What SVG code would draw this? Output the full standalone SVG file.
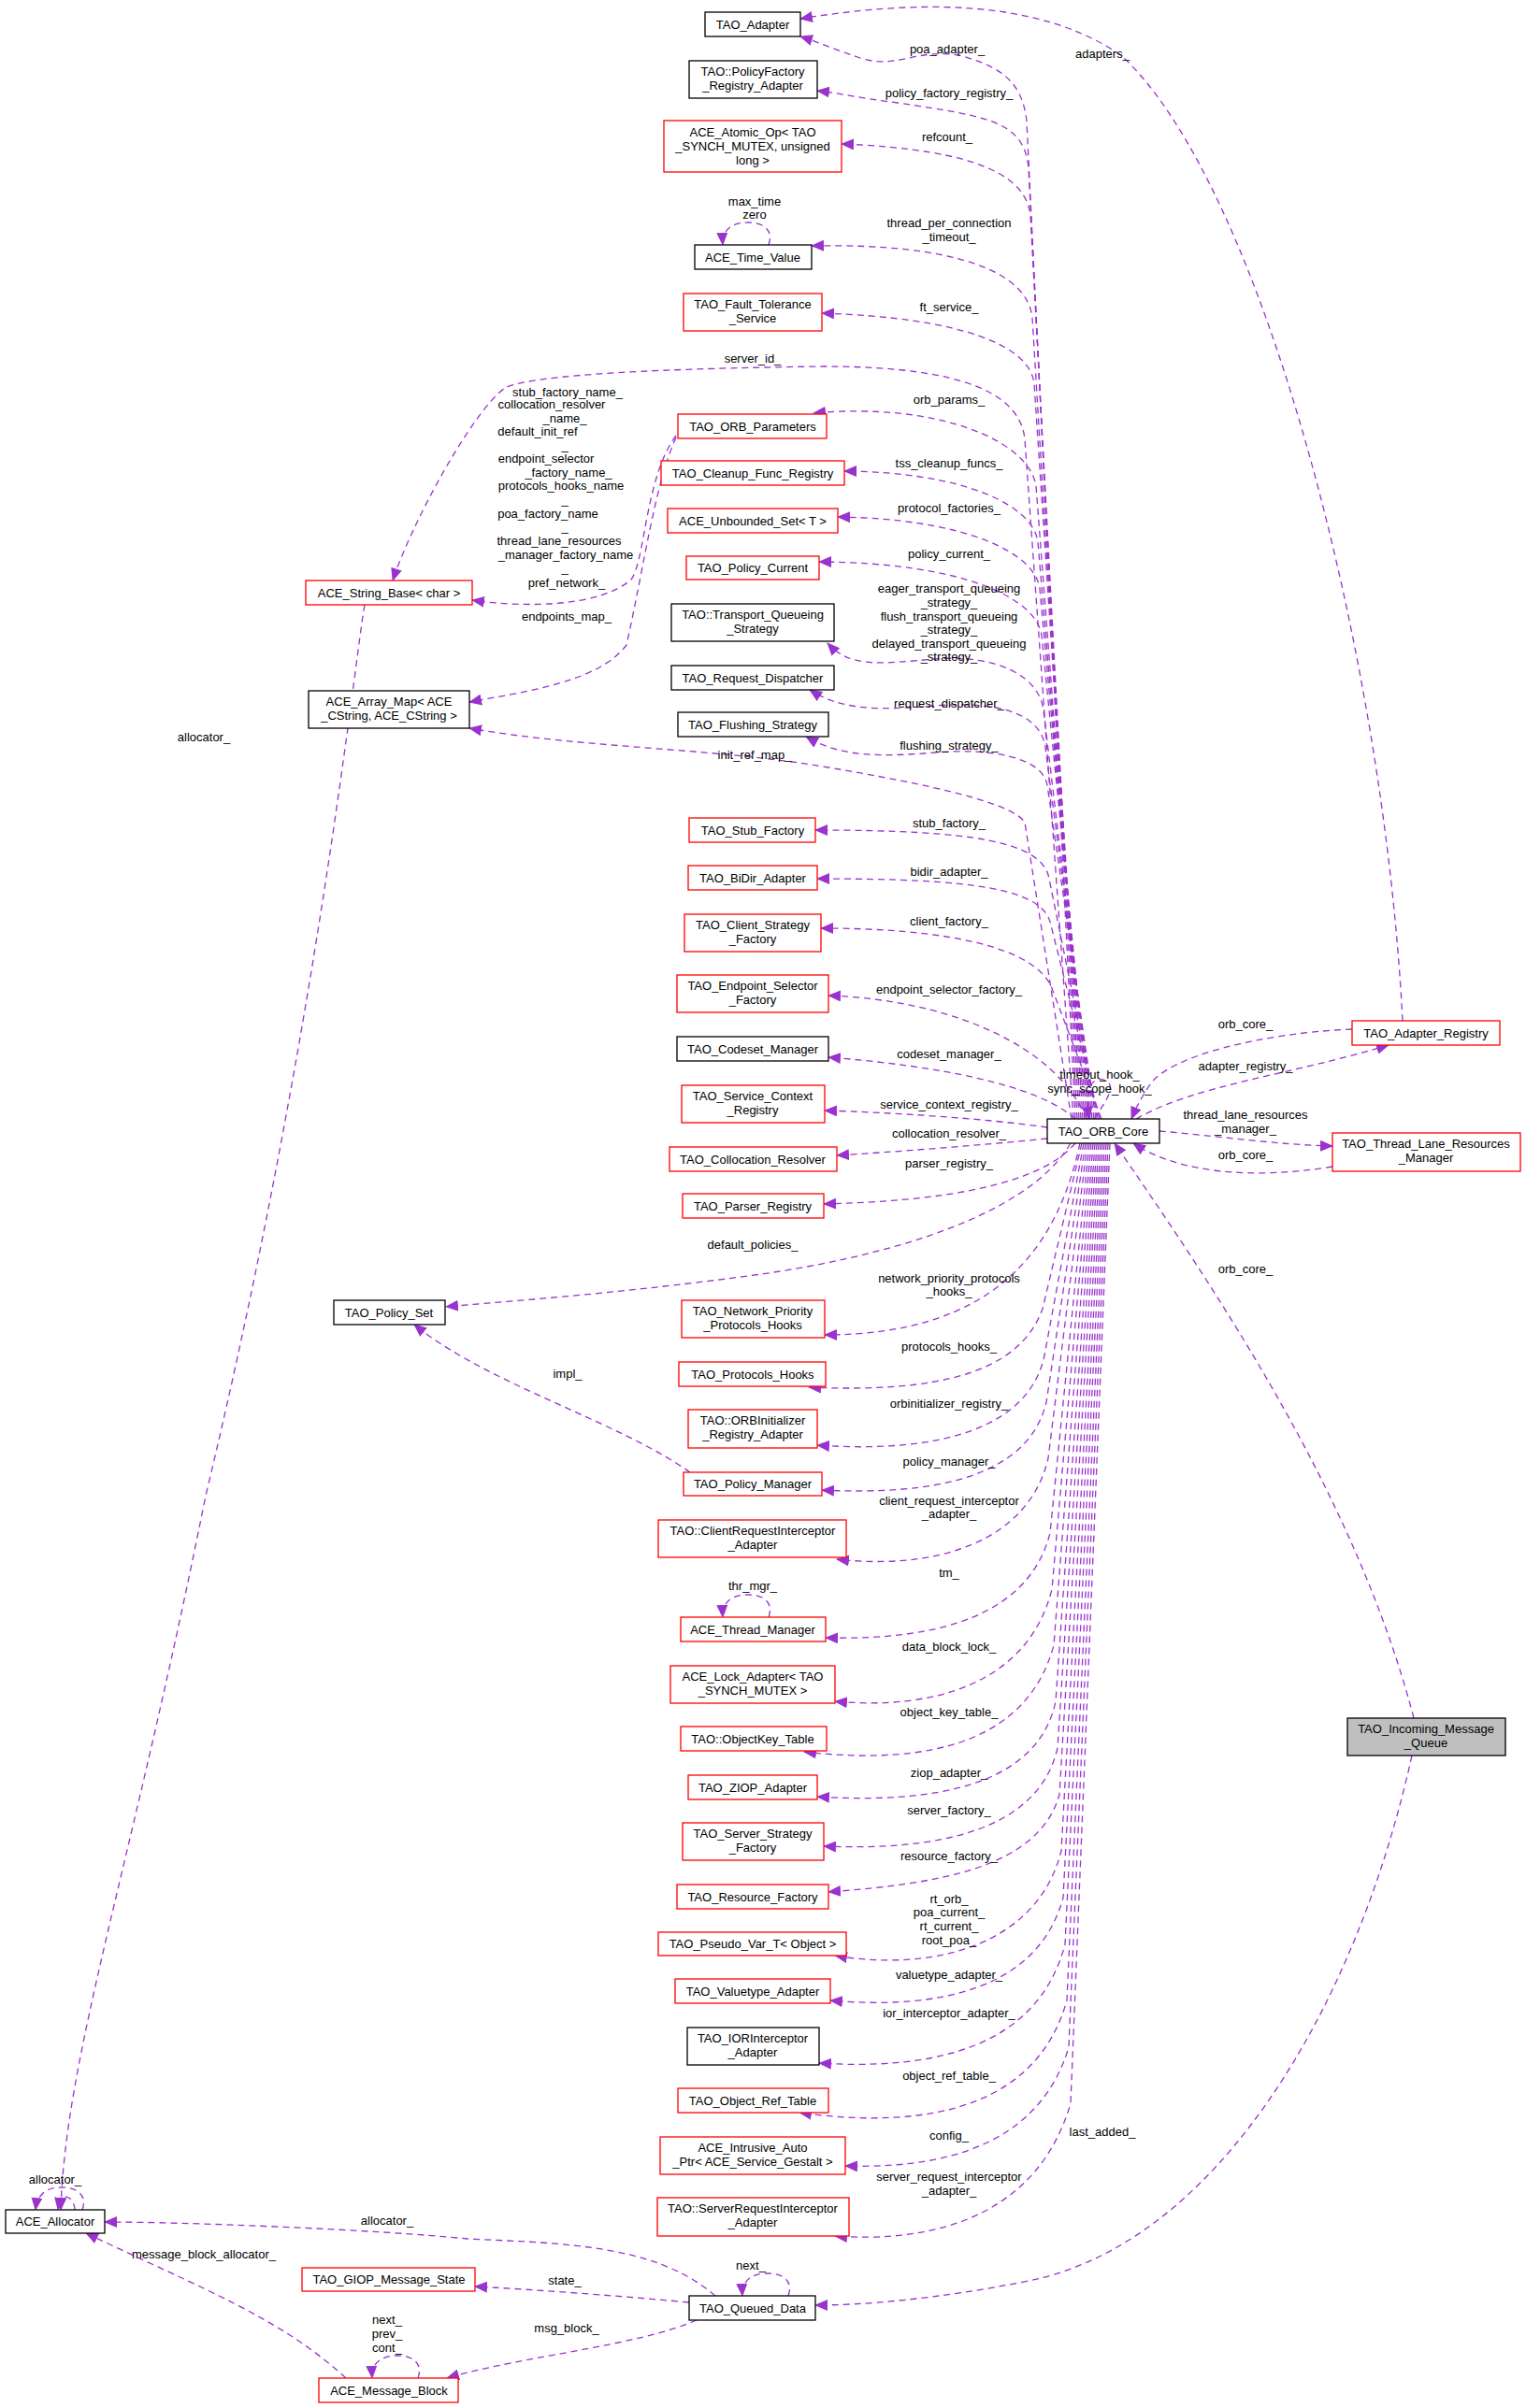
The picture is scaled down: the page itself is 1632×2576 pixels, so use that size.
<svg xmlns="http://www.w3.org/2000/svg" width="1632" height="2576" viewBox="0 0 1632 2576">
<style>
text{font-family:"Liberation Sans",Arial,sans-serif;font-size:13px;text-anchor:middle;fill:#000}
.n rect{fill:#fff;stroke:#000;stroke-width:1.3}
.r rect{stroke:#ff0000}
.g rect{fill:#bfbfbf}
.e path{fill:none;stroke:#9a32cd;stroke-width:1.3;stroke-dasharray:7,5;marker-end:url(#a)}
</style>
<defs><marker id="a" markerUnits="userSpaceOnUse" markerWidth="14" markerHeight="12" refX="13" refY="6" orient="auto"><path d="M0,0 L14,6 L0,12z" fill="#9a32cd"/></marker></defs>
<rect width="1632" height="2576" fill="#fff"/>
<g id="edges" class="e">
<path d="M1500,1092 C1480,700 1350,200 1200,60 C1100,-10 950,5 856,20"/>
<path d="M1150,1197 L1098,130 C1093,80 1060,70 1030,60 C980,50 960,75 920,62 C890,52 875,45 856,39"/>
<path d="M1152,1197 L1100,180 C1095,130 1060,125 960,110 C920,105 900,100 874,97"/>
<path d="M1154,1197 L1102,230 C1097,190 1050,160 900,154"/>
<path d="M1156,1197 L1104,340 C1099,290 1020,260 868,263"/>
<path d="M1158,1197 L1106,410 C1101,370 1030,340 879,335"/>
<path d="M1148,1197 L1096,470 C1090,410 1000,392 880,392 C720,394 570,400 540,415 C505,440 440,560 420,621"/>
<path d="M1160,1197 L1108,520 C1100,470 1000,430 870,442"/>
<path d="M1162,1197 L1110,580 C1105,540 1030,505 903,504"/>
<path d="M1164,1197 L1112,630 C1107,590 1030,555 896,553"/>
<path d="M1166,1197 L1114,680 C1109,640 1030,602 876,601"/>
<path d="M1168,1197 L1116,760 C1111,720 1060,700 1000,705 C940,710 910,715 885,688"/>
<path d="M1170,1197 L1118,800 C1113,760 1060,750 1000,755 C940,760 900,760 866,738"/>
<path d="M1172,1197 L1120,840 C1115,810 1060,800 1000,805 C940,810 900,810 862,788"/>
<path d="M1146,1197 L1096,880 C1085,860 1000,840 880,820 C760,800 620,800 502,779"/>
<path d="M1174,1197 L1122,940 C1115,900 1040,888 872,888"/>
<path d="M1176,1197 L1124,990 C1117,950 1040,940 874,940"/>
<path d="M1178,1197 L1126,1060 C1110,1010 1000,993 878,993"/>
<path d="M1162,1197 C1130,1120 1020,1070 886,1065"/>
<path d="M1150,1197 C1110,1160 1000,1140 886,1131"/>
<path d="M1120,1206 C1050,1196 950,1190 882,1188"/>
<path d="M1120,1218 C1050,1225 960,1232 895,1236"/>
<path d="M1150,1223 C1110,1270 1000,1285 881,1288"/>
<path d="M1145,1223 C1100,1300 950,1345 800,1365 C650,1385 540,1392 477,1398"/>
<path d="M1155,1223 C1130,1340 1060,1428 882,1428"/>
<path d="M1157,1223 L1115,1400 C1090,1470 1000,1490 865,1484"/>
<path d="M1159,1223 L1117,1450 C1100,1530 1000,1555 874,1546"/>
<path d="M1161,1223 L1119,1500 C1100,1580 1000,1600 879,1594"/>
<path d="M1163,1223 L1121,1560 C1100,1650 1000,1680 895,1668"/>
<path d="M1165,1223 L1123,1640 C1100,1730 1000,1755 883,1752"/>
<path d="M1167,1223 L1125,1700 C1100,1800 1000,1830 893,1820"/>
<path d="M1169,1223 L1127,1760 C1100,1860 1000,1890 860,1874"/>
<path d="M1171,1223 L1129,1820 C1110,1910 1000,1930 874,1922"/>
<path d="M1173,1223 L1131,1870 C1110,1960 1000,1980 881,1975"/>
<path d="M1175,1223 L1133,1920 C1110,2000 1000,2015 886,2024"/>
<path d="M1177,1223 L1135,1980 C1110,2080 1000,2110 893,2092"/>
<path d="M1179,1223 L1137,2030 C1110,2130 1000,2150 888,2140"/>
<path d="M1181,1223 L1139,2080 C1110,2190 1000,2215 876,2207"/>
<path d="M1183,1223 L1141,2140 C1110,2250 1000,2280 855,2260"/>
<path d="M1185,1223 L1143,2190 C1110,2300 1000,2320 904,2317"/>
<path d="M1187,1223 L1145,2250 C1110,2370 1000,2400 893,2392"/>
<path d="M1446,1101 C1350,1105 1250,1130 1230,1160 C1220,1175 1215,1185 1210,1197"/>
<path d="M1215,1197 C1280,1160 1380,1150 1485,1118"/>
<path d="M1240,1210 C1300,1215 1370,1225 1425,1226"/>
<path d="M1425,1248 C1340,1262 1260,1255 1212,1223"/>
<path d="M1512,1838 C1450,1600 1300,1380 1192,1223"/>
<path d="M1170,1197 C1185,1175 1195,1160 1180,1155 C1165,1152 1160,1170 1165,1197"/>
<path d="M1510,1878 C1450,2150 1300,2400 1100,2440 C1000,2460 920,2466 872,2466"/>
<path d="M723,466 C690,510 690,600 675,620 C640,650 560,650 505,642"/>
<path d="M723,468 C700,520 690,600 670,690 C640,730 560,740 502,751"/>
<path d="M738,1575 C660,1520 520,1480 443,1417"/>
<path d="M390,647 C380,700 340,1100 220,1600 C140,2000 70,2200 65,2364"/>
<path d="M765,2456 C700,2400 600,2400 500,2395 C400,2385 200,2377 112,2377"/>
<path d="M370,2544 C300,2480 220,2450 92,2389"/>
<path d="M737,2463 C650,2455 580,2450 508,2446"/>
<path d="M745,2482 C680,2510 560,2520 478,2544"/>
<path d="M822,262 C828,245 815,238 800,238 C785,238 772,244 773,262"/>
<path d="M822,1730 C828,1713 815,1706 800,1706 C785,1706 772,1712 773,1730"/>
<path d="M843,2456 C849,2439 836,2432 821,2432 C806,2432 793,2438 794,2456"/>
<path d="M447,2544 C453,2527 440,2520 425,2520 C410,2520 397,2526 398,2544"/>
<path d="M88,2364 C94,2347 81,2340 66,2340 C51,2340 40,2346 38,2364"/>
<path d="M80,2364 C80,2352 66,2340 62,2364"/>
</g>
<g id="labels">
<text x="1179" y="62">adapters_</text>
<text x="1013" y="57">poa_adapter_</text>
<text x="1015" y="104">policy_factory_registry_</text>
<text x="1013" y="151">refcount_</text>
<text x="807" y="220">max_time</text><text x="807" y="234">zero</text>
<text x="1015" y="243">thread_per_connection</text><text x="1015" y="258">_timeout_</text>
<text x="1015" y="333">ft_service_</text>
<text x="805" y="388">server_id_</text>
<text x="1015" y="432">orb_params_</text>
<text x="1015" y="500">tss_cleanup_funcs_</text>
<text x="1015" y="548">protocol_factories_</text>
<text x="1015" y="597">policy_current_</text>
<text x="1015" y="634">eager_transport_queueing</text><text x="1015" y="649">_strategy_</text><text x="1015" y="664">flush_transport_queueing</text><text x="1015" y="678">_strategy_</text><text x="1015" y="693">delayed_transport_queueing</text><text x="1015" y="707">_strategy_</text>
<text x="607" y="424">stub_factory_name_</text><text x="590" y="437">collocation_resolver</text><text x="604" y="452">_name_</text><text x="575" y="466">default_init_ref</text><text x="604" y="481">_</text><text x="584" y="495">endpoint_selector</text><text x="608" y="510">_factory_name_</text><text x="600" y="524">protocols_hooks_name</text><text x="604" y="539">_</text><text x="586" y="554">poa_factory_name</text><text x="604" y="568">_</text><text x="598" y="583">thread_lane_resources</text><text x="605" y="598">_manager_factory_name</text><text x="604" y="612">_</text><text x="606" y="628">pref_network_</text>
<text x="606" y="664">endpoints_map_</text>
<text x="218" y="793">allocator_</text>
<text x="1015" y="757">request_dispatcher_</text>
<text x="1015" y="802">flushing_strategy_</text>
<text x="807" y="812">init_ref_map_</text>
<text x="1015" y="885">stub_factory_</text>
<text x="1015" y="937">bidir_adapter_</text>
<text x="1015" y="990">client_factory_</text>
<text x="1015" y="1063">endpoint_selector_factory_</text>
<text x="1015" y="1132">codeset_manager_</text>
<text x="1015" y="1186">service_context_registry_</text>
<text x="1015" y="1217">collocation_resolver_</text>
<text x="1015" y="1249">parser_registry_</text>
<text x="1176" y="1154">timeout_hook_</text><text x="1176" y="1169">sync_scope_hook_</text>
<text x="1332" y="1100">orb_core_</text>
<text x="1332" y="1145">adapter_registry_</text>
<text x="1332" y="1197">thread_lane_resources</text><text x="1332" y="1212">_manager_</text>
<text x="1332" y="1240">orb_core_</text>
<text x="1332" y="1362">orb_core_</text>
<text x="805" y="1336">default_policies_</text>
<text x="1015" y="1372">network_priority_protocols</text><text x="1015" y="1386">_hooks_</text>
<text x="1015" y="1445">protocols_hooks_</text>
<text x="607" y="1474">impl_</text>
<text x="1015" y="1506">orbinitializer_registry_</text>
<text x="1015" y="1568">policy_manager_</text>
<text x="1015" y="1610">client_request_interceptor</text><text x="1015" y="1624">_adapter_</text>
<text x="805" y="1701">thr_mgr_</text>
<text x="1015" y="1687">tm_</text>
<text x="1015" y="1766">data_block_lock_</text>
<text x="1015" y="1836">object_key_table_</text>
<text x="1015" y="1901">ziop_adapter_</text>
<text x="1015" y="1941">server_factory_</text>
<text x="1015" y="1990">resource_factory_</text>
<text x="1015" y="2036">rt_orb_</text><text x="1015" y="2050">poa_current_</text><text x="1015" y="2065">rt_current_</text><text x="1015" y="2080">root_poa_</text>
<text x="1015" y="2117">valuetype_adapter_</text>
<text x="1015" y="2158">ior_interceptor_adapter_</text>
<text x="1015" y="2225">object_ref_table_</text>
<text x="1015" y="2289">config_</text>
<text x="1015" y="2333">server_request_interceptor</text><text x="1015" y="2348">_adapter_</text>
<text x="1179" y="2285">last_added_</text>
<text x="59" y="2336">allocator_</text>
<text x="414" y="2380">allocator_</text>
<text x="218" y="2416">message_block_allocator_</text>
<text x="803" y="2428">next_</text>
<text x="604" y="2444">state_</text>
<text x="414" y="2486">next_</text><text x="414" y="2501">prev_</text><text x="414" y="2516">cont_</text>
<text x="606" y="2495">msg_block_</text>
</g>
<g id="TAO_Adapter" class="n"><rect x="754" y="13" width="102" height="26"/><text x="805" y="31">TAO_Adapter</text></g>
<g id="PolicyFactory" class="n"><rect x="737" y="65" width="137" height="40"/><text x="805" y="81">TAO::PolicyFactory</text><text x="805" y="96">_Registry_Adapter</text></g>
<g id="Atomic_Op" class="n r"><rect x="710" y="129" width="190" height="55"/><text x="805" y="146">ACE_Atomic_Op&lt; TAO</text><text x="805" y="161">_SYNCH_MUTEX, unsigned</text><text x="805" y="176">long &gt;</text></g>
<g id="Time_Value" class="n"><rect x="743" y="262" width="125" height="26"/><text x="805" y="280">ACE_Time_Value</text></g>
<g id="Fault_Tolerance" class="n r"><rect x="731" y="314" width="148" height="40"/><text x="805" y="330">TAO_Fault_Tolerance</text><text x="805" y="345">_Service</text></g>
<g id="ORB_Parameters" class="n r"><rect x="725" y="443" width="159" height="26"/><text x="805" y="461">TAO_ORB_Parameters</text></g>
<g id="Cleanup" class="n r"><rect x="707" y="493" width="196" height="26"/><text x="805" y="511">TAO_Cleanup_Func_Registry</text></g>
<g id="Unbounded_Set" class="n r"><rect x="714" y="544" width="182" height="26"/><text x="805" y="562">ACE_Unbounded_Set&lt; T &gt;</text></g>
<g id="Policy_Current" class="n r"><rect x="734" y="595" width="142" height="25"/><text x="805" y="612">TAO_Policy_Current</text></g>
<g id="Transport_Queueing" class="n"><rect x="718" y="646" width="174" height="40"/><text x="805" y="662">TAO::Transport_Queueing</text><text x="805" y="677">_Strategy</text></g>
<g id="String_Base" class="n r"><rect x="327" y="621" width="178" height="26"/><text x="416" y="639">ACE_String_Base&lt; char &gt;</text></g>
<g id="Request_Dispatcher" class="n"><rect x="718" y="712" width="174" height="26"/><text x="805" y="730">TAO_Request_Dispatcher</text></g>
<g id="Flushing_Strategy" class="n"><rect x="725" y="762" width="161" height="26"/><text x="805" y="780">TAO_Flushing_Strategy</text></g>
<g id="Array_Map" class="n"><rect x="330" y="739" width="172" height="40"/><text x="416" y="755">ACE_Array_Map&lt; ACE</text><text x="416" y="770">_CString, ACE_CString &gt;</text></g>
<g id="Stub_Factory" class="n r"><rect x="737" y="875" width="135" height="26"/><text x="805" y="893">TAO_Stub_Factory</text></g>
<g id="BiDir" class="n r"><rect x="736" y="926" width="138" height="26"/><text x="805" y="944">TAO_BiDir_Adapter</text></g>
<g id="Client_Strategy" class="n r"><rect x="732" y="978" width="146" height="40"/><text x="805" y="994">TAO_Client_Strategy</text><text x="805" y="1009">_Factory</text></g>
<g id="Endpoint_Selector" class="n r"><rect x="724" y="1043" width="162" height="40"/><text x="805" y="1059">TAO_Endpoint_Selector</text><text x="805" y="1074">_Factory</text></g>
<g id="Codeset" class="n"><rect x="724" y="1109" width="162" height="26"/><text x="805" y="1127">TAO_Codeset_Manager</text></g>
<g id="Service_Context" class="n r"><rect x="729" y="1161" width="153" height="40"/><text x="805" y="1177">TAO_Service_Context</text><text x="805" y="1192">_Registry</text></g>
<g id="Collocation" class="n r"><rect x="716" y="1227" width="179" height="26"/><text x="805" y="1245">TAO_Collocation_Resolver</text></g>
<g id="Parser" class="n r"><rect x="730" y="1277" width="151" height="26"/><text x="805" y="1295">TAO_Parser_Registry</text></g>
<g id="ORB_Core" class="n"><rect x="1120" y="1197" width="120" height="26"/><text x="1180" y="1215">TAO_ORB_Core</text></g>
<g id="Adapter_Registry" class="n r"><rect x="1446" y="1092" width="158" height="26"/><text x="1525" y="1110">TAO_Adapter_Registry</text></g>
<g id="TLRM" class="n r"><rect x="1425" y="1212" width="201" height="41"/><text x="1525" y="1228">TAO_Thread_Lane_Resources</text><text x="1525" y="1243">_Manager</text></g>
<g id="Policy_Set" class="n"><rect x="357" y="1391" width="119" height="26"/><text x="416" y="1409">TAO_Policy_Set</text></g>
<g id="Network_Priority" class="n r"><rect x="729" y="1391" width="153" height="40"/><text x="805" y="1407">TAO_Network_Priority</text><text x="805" y="1422">_Protocols_Hooks</text></g>
<g id="Protocols_Hooks" class="n r"><rect x="726" y="1457" width="157" height="26"/><text x="805" y="1475">TAO_Protocols_Hooks</text></g>
<g id="ORBInitializer" class="n r"><rect x="736" y="1508" width="138" height="41"/><text x="805" y="1524">TAO::ORBInitializer</text><text x="805" y="1539">_Registry_Adapter</text></g>
<g id="Policy_Manager" class="n r"><rect x="731" y="1575" width="148" height="25"/><text x="805" y="1592">TAO_Policy_Manager</text></g>
<g id="ClientRequest" class="n r"><rect x="704" y="1626" width="201" height="40"/><text x="805" y="1642">TAO::ClientRequestInterceptor</text><text x="805" y="1657">_Adapter</text></g>
<g id="Thread_Manager" class="n r"><rect x="728" y="1730" width="155" height="26"/><text x="805" y="1748">ACE_Thread_Manager</text></g>
<g id="Lock_Adapter" class="n r"><rect x="717" y="1782" width="176" height="40"/><text x="805" y="1798">ACE_Lock_Adapter&lt; TAO</text><text x="805" y="1813">_SYNCH_MUTEX &gt;</text></g>
<g id="ObjectKey_Table" class="n r"><rect x="728" y="1847" width="156" height="26"/><text x="805" y="1865">TAO::ObjectKey_Table</text></g>
<g id="ZIOP" class="n r"><rect x="736" y="1899" width="138" height="26"/><text x="805" y="1917">TAO_ZIOP_Adapter</text></g>
<g id="Server_Strategy" class="n r"><rect x="730" y="1950" width="151" height="40"/><text x="805" y="1966">TAO_Server_Strategy</text><text x="805" y="1981">_Factory</text></g>
<g id="Resource_Factory" class="n r"><rect x="724" y="2016" width="162" height="26"/><text x="805" y="2034">TAO_Resource_Factory</text></g>
<g id="Incoming" class="n g"><rect x="1441" y="1838" width="169" height="40"/><text x="1525" y="1854">TAO_Incoming_Message</text><text x="1525" y="1869">_Queue</text></g>
<g id="Pseudo_Var" class="n r"><rect x="704" y="2067" width="201" height="25"/><text x="805" y="2084">TAO_Pseudo_Var_T&lt; Object &gt;</text></g>
<g id="Valuetype" class="n r"><rect x="722" y="2117" width="166" height="26"/><text x="805" y="2135">TAO_Valuetype_Adapter</text></g>
<g id="IORInterceptor" class="n"><rect x="735" y="2169" width="141" height="40"/><text x="805" y="2185">TAO_IORInterceptor</text><text x="805" y="2200">_Adapter</text></g>
<g id="Object_Ref_Table" class="n r"><rect x="725" y="2234" width="161" height="26"/><text x="805" y="2252">TAO_Object_Ref_Table</text></g>
<g id="Intrusive" class="n r"><rect x="706" y="2286" width="198" height="40"/><text x="805" y="2302">ACE_Intrusive_Auto</text><text x="805" y="2317">_Ptr&lt; ACE_Service_Gestalt &gt;</text></g>
<g id="ServerRequest" class="n r"><rect x="703" y="2351" width="205" height="41"/><text x="805" y="2367">TAO::ServerRequestInterceptor</text><text x="805" y="2382">_Adapter</text></g>
<g id="Allocator" class="n"><rect x="6" y="2364" width="106" height="25"/><text x="59" y="2381">ACE_Allocator</text></g>
<g id="GIOP" class="n r"><rect x="323" y="2426" width="185" height="25"/><text x="416" y="2443">TAO_GIOP_Message_State</text></g>
<g id="Queued_Data" class="n"><rect x="737" y="2456" width="135" height="26"/><text x="805" y="2474">TAO_Queued_Data</text></g>
<g id="Message_Block" class="n r"><rect x="341" y="2544" width="149" height="26"/><text x="416" y="2562">ACE_Message_Block</text></g>
</svg>
